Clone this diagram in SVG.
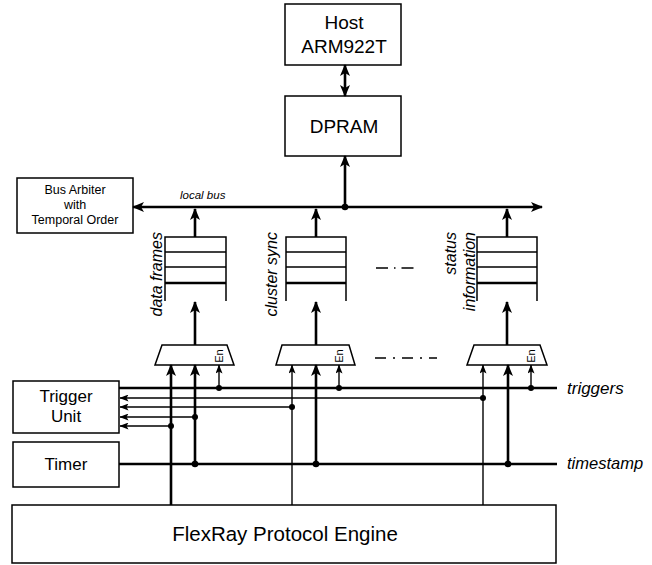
<svg xmlns="http://www.w3.org/2000/svg" width="652" height="565" viewBox="0 0 652 565">
<style>
.box{fill:#fff;stroke:#000;stroke-width:1.5}
.t{font-family:"Liberation Sans",Arial,sans-serif;fill:#000}
.it{font-family:"Liberation Sans",Arial,sans-serif;font-style:italic;fill:#000}
.th{stroke:#000;stroke-width:2.6;fill:none}
.tn{stroke:#000;stroke-width:1.4;fill:none}
.f{stroke:#000;stroke-width:1.5;fill:none}
.d{fill:#000}
</style>
<defs>
<marker id="ab" viewBox="0 0 12 10" refX="11" refY="5" markerWidth="12" markerHeight="10" markerUnits="userSpaceOnUse" orient="auto-start-reverse"><path d="M0,0 L12,5 L0,10 L3,5 z"/></marker>
<marker id="as" viewBox="0 0 9 7" refX="8.5" refY="3.5" markerWidth="9" markerHeight="7" markerUnits="userSpaceOnUse" orient="auto-start-reverse"><path d="M0,0 L9,3.5 L0,7 L2,3.5 z"/></marker>
</defs>
<rect width="652" height="565" fill="#fff"/>

<g id="host"><rect class="box" x="285" y="4" width="116" height="61"/>
<text class="t" x="344" y="29" font-size="19" text-anchor="middle">Host</text>
<text class="t" x="344" y="53" font-size="19" text-anchor="middle">ARM922T</text></g>

<g id="dpram"><rect class="box" x="285" y="96" width="116" height="60"/>
<text class="t" x="344" y="133" font-size="19" text-anchor="middle">DPRAM</text></g>

<g id="arbiter"><rect class="box" x="17" y="178" width="116" height="55"/>
<text class="t" x="75" y="194" font-size="12.5" text-anchor="middle">Bus Arbiter</text>
<text class="t" x="75" y="209" font-size="12.5" text-anchor="middle">with</text>
<text class="t" x="75" y="224" font-size="12.5" text-anchor="middle">Temporal Order</text></g>

<g id="fifo1">
<path class="f" d="M165,301 V237 H226 V301 M165,252 H226 M165,267 H226"/>
<path class="th" d="M165,283 H226"/>
<text class="it" transform="translate(162,232) rotate(-90)" font-size="16" text-anchor="end">data frames</text></g>

<g id="fifo2">
<path class="f" d="M286,301 V237 H346 V301 M286,252 H346 M286,267 H346"/>
<path class="th" d="M286,283 H346"/>
<text class="it" transform="translate(277,232) rotate(-90)" font-size="16" text-anchor="end">cluster sync</text></g>

<g id="fifo3">
<path class="f" d="M477,301 V237 H537 V301 M477,252 H537 M477,267 H537"/>
<path class="th" d="M477,283 H537"/>
<text class="it" transform="translate(456,232) rotate(-90)" font-size="16" text-anchor="end">status</text>
<text class="it" transform="translate(475,232) rotate(-90)" font-size="16" text-anchor="end">information</text></g>

<g id="mux1"><path class="box" d="M162,345 H227 L234,365 H155 Z"/>
<text class="t" transform="translate(223,356) rotate(-90)" font-size="11" text-anchor="middle">En</text></g>
<g id="mux2"><path class="box" d="M282,345 H349 L355,365 H276 Z"/>
<text class="t" transform="translate(343,356) rotate(-90)" font-size="11" text-anchor="middle">En</text></g>
<g id="mux3"><path class="box" d="M474,345 H540 L547,365 H467 Z"/>
<text class="t" transform="translate(535,356) rotate(-90)" font-size="11" text-anchor="middle">En</text></g>

<g id="trigger"><rect class="box" x="13" y="381" width="106" height="52"/>
<text class="t" x="66" y="402" font-size="17" text-anchor="middle">Trigger</text>
<text class="t" x="66" y="422" font-size="17" text-anchor="middle">Unit</text></g>

<g id="timer"><rect class="box" x="13" y="442" width="106" height="45"/>
<text class="t" x="66" y="470" font-size="17" text-anchor="middle">Timer</text></g>

<g id="flexray"><rect class="box" x="12" y="505" width="544" height="58"/>
<text class="t" x="285" y="541" font-size="20.5" text-anchor="middle">FlexRay Protocol Engine</text></g>

<g id="connectors">
<line class="th" x1="345" y1="65" x2="345" y2="96" marker-start="url(#ab)" marker-end="url(#ab)"/>
<line class="th" x1="345" y1="207" x2="345" y2="156" marker-end="url(#ab)"/>
<line class="th" x1="133" y1="207" x2="542" y2="207" marker-start="url(#ab)" marker-end="url(#ab)"/>
<circle class="d" cx="345" cy="207" r="3.3"/>
<text class="it" x="180" y="199" font-size="11.5">local bus</text>

<line class="th" x1="195" y1="237" x2="195" y2="209" marker-end="url(#ab)"/>
<line class="th" x1="316" y1="237" x2="316" y2="209" marker-end="url(#ab)"/>
<line class="th" x1="507" y1="237" x2="507" y2="209" marker-end="url(#ab)"/>

<line class="th" x1="195" y1="345" x2="195" y2="302" marker-end="url(#ab)"/>
<line class="th" x1="316" y1="345" x2="316" y2="302" marker-end="url(#ab)"/>
<line class="th" x1="507" y1="345" x2="507" y2="302" marker-end="url(#ab)"/>

<path class="f" d="M376,268 H388 M394,268 H395.5 M401.5,268 H413.5"/>
<path class="f" d="M375,358 H386 M393,358 H395 M402,358 H413 M420,358 H422 M429,358 H437"/>

<!-- triggers and timestamp buses -->
<line class="th" x1="119" y1="388" x2="557" y2="388"/>
<text class="it" x="567" y="394" font-size="17">triggers</text>
<line class="th" x1="119" y1="464" x2="557" y2="464"/>
<text class="it" x="567" y="469" font-size="16.5">timestamp</text>

<!-- feedback to trigger unit -->
<line class="f" x1="483" y1="398" x2="120" y2="398" marker-end="url(#as)"/>
<line class="tn" x1="292" y1="407" x2="120" y2="407" marker-end="url(#as)"/>
<line class="tn" x1="195" y1="417" x2="120" y2="417" marker-end="url(#as)"/>
<line class="tn" x1="171" y1="426" x2="120" y2="426" marker-end="url(#as)"/>

<!-- mux inputs -->
<line class="th" x1="171" y1="505" x2="171" y2="365" marker-end="url(#ab)"/>
<line class="th" x1="195" y1="464" x2="195" y2="365" marker-end="url(#ab)"/>
<line class="tn" x1="219" y1="388" x2="219" y2="365" marker-end="url(#as)"/>
<line class="tn" x1="292" y1="505" x2="292" y2="365" marker-end="url(#as)"/>
<line class="th" x1="316" y1="464" x2="316" y2="365" marker-end="url(#ab)"/>
<line class="tn" x1="339" y1="388" x2="339" y2="365" marker-end="url(#as)"/>
<line class="tn" x1="483" y1="505" x2="483" y2="365" marker-end="url(#as)"/>
<line class="th" x1="508" y1="464" x2="508" y2="365" marker-end="url(#ab)"/>
<line class="tn" x1="531" y1="388" x2="531" y2="365" marker-end="url(#as)"/>

<circle class="d" cx="219" cy="388" r="3"/>
<circle class="d" cx="339" cy="388" r="3"/>
<circle class="d" cx="531" cy="388" r="3"/>
<circle class="d" cx="483" cy="398" r="3"/>
<circle class="d" cx="292" cy="407" r="3"/>
<circle class="d" cx="195" cy="417" r="3"/>
<circle class="d" cx="171" cy="426" r="3"/>
<circle class="d" cx="195" cy="464" r="3.3"/>
<circle class="d" cx="316" cy="464" r="3.3"/>
<circle class="d" cx="508" cy="464" r="3.3"/>
</g>
</svg>
